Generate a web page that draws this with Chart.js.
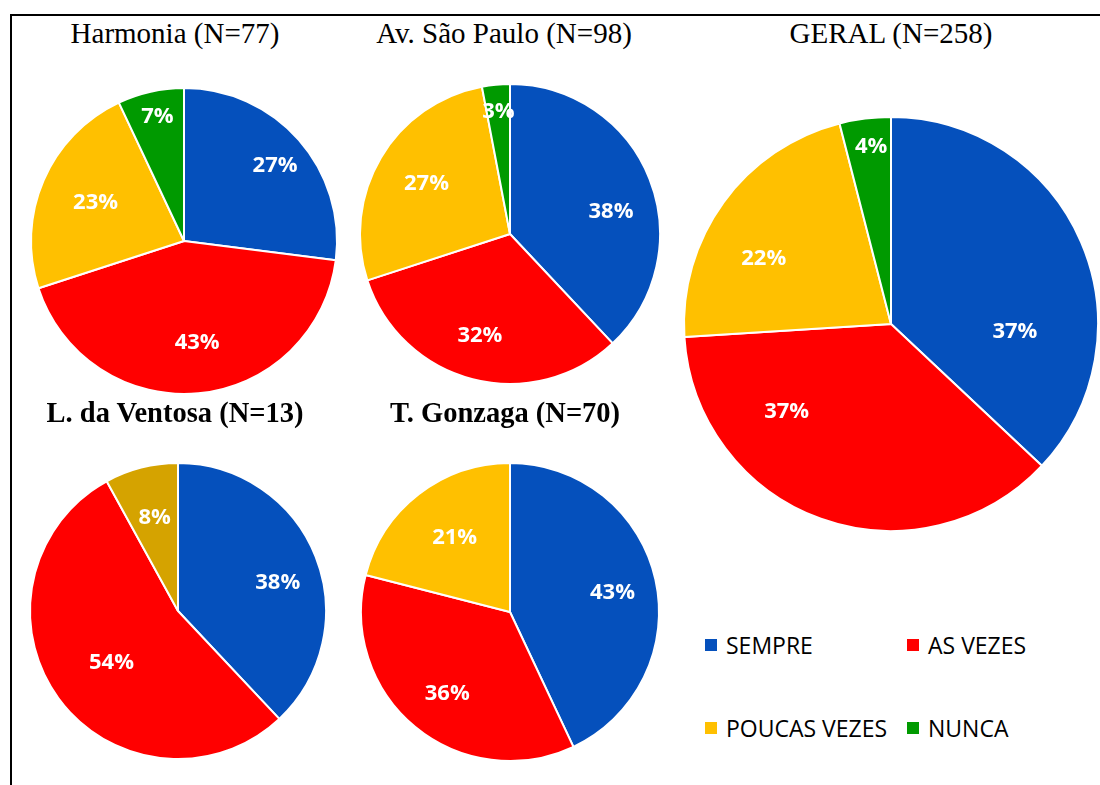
<!DOCTYPE html>
<html>
<head>
<meta charset="utf-8">
<script src="https://cdn.jsdelivr.net/npm/chart.js@4/dist/chart.umd.min.js"></script>
<style>
  html, body { margin: 0; padding: 0; background: #fff; }
  body { width: 1100px; height: 785px; position: relative; overflow: hidden; }
  .frame { position: absolute; left: 10px; top: 14px; width: 1200px; height: 900px;
           border-left: 2px solid #000; border-top: 2px solid #000; }
  canvas { position: absolute; }
  .title { position: absolute; transform: translate(-50%, -50%); white-space: nowrap;
           font-family: "Liberation Serif", "Times New Roman", serif; font-size: 29px; color: #000; }
  .title.bold { font-weight: bold; font-size: 28.5px; }
  .legend-item { position: absolute; display: flex; align-items: center;
                 font-family: "Open Sans", "Liberation Sans", sans-serif; font-size: 23px; color: #000; }
  .legend-item .sw { width: 12px; height: 12px; margin-right: 9px; }
</style>
</head>
<body>
<div class="frame"></div>
<script>
// Answer categories
const categories = ["SEMPRE", "AS VEZES", "POUCAS VEZES", "NUNCA"];

// Percentages per location (SEMPRE, AS VEZES, POUCAS VEZES, NUNCA)
const harmonia   = [27, 43, 23, 7];
const saoPaulo   = [38, 32, 27, 3];
const geral      = [37, 37, 22, 4];
const ventosa    = [38, 54, 8];
const gonzaga    = [43, 36, 21];

const titles = {
  harmonia: "Harmonia (N=77)",
  saoPaulo: "Av. São Paulo (N=98)",
  geral: "GERAL (N=258)",
  ventosa: "L. da Ventosa (N=13)",
  gonzaga: "T. Gonzaga (N=70)"
};

// Palette
const BLUE = "#0550BC", RED = "#FF0000", YELLOW = "#FFC000", GREEN = "#009A00", GOLD = "#D5A300";
const baseColors = [BLUE, RED, YELLOW, GREEN];

// Layout of each pie: centre, radius, label placement (radius fraction, angle shift in degrees)
const pies = [
  { key: "harmonia", values: harmonia, colors: baseColors, cx: 184, cy: 241, r: 153,
    title: { x: 175, y: 33, bold: false },
    labels: [[0.77, 2], [0.67, -2], [0.63, 0], [0.83, 0.5]] },
  { key: "saoPaulo", values: saoPaulo, colors: baseColors, cx: 510, cy: 234, r: 150,
    title: { x: 504, y: 33, bold: false },
    labels: [[0.69, 9], [0.71, 2], [0.65, 0.5], [0.82, 0]] },
  { key: "geral", values: geral, colors: baseColors, cx: 891, cy: 324, r: 207,
    title: { x: 891, y: 33, bold: false },
    labels: [[0.60, 27], [0.66, 30], [0.69, -9], [0.86, 0.8]] },
  { key: "ventosa", values: ventosa, colors: [BLUE, RED, GOLD], cx: 178, cy: 611, r: 148,
    title: { x: 175, y: 413, bold: true },
    labels: [[0.70, 6], [0.57, -2], [0.65, 0.4]] },
  { key: "gonzaga", values: gonzaga, colors: [BLUE, RED, YELLOW], cx: 510, cy: 612, r: 149,
    title: { x: 505, y: 413, bold: true },
    labels: [[0.70, 2], [0.69, -2], [0.62, 1]] }
];

// Percentage labels drawn inside each slice
const sliceLabels = {
  id: "sliceLabels",
  afterDatasetsDraw(chart, args, opts) {
    const ctx = chart.ctx;
    const meta = chart.getDatasetMeta(0);
    const vals = chart.data.datasets[0].data;
    ctx.save();
    ctx.fillStyle = "#FFFFFF";
    ctx.font = "bold 22px 'Open Sans', 'Liberation Sans', sans-serif";
    ctx.textAlign = "center";
    ctx.textBaseline = "middle";
    meta.data.forEach((arc, i) => {
      const p = arc.getProps(["x", "y", "startAngle", "endAngle", "outerRadius"], true);
      const place = opts.place[i] || [0.7, 0];
      const mid = (p.startAngle + p.endAngle) / 2 + place[1] * Math.PI / 180;
      const rr = p.outerRadius * place[0];
      ctx.fillText(vals[i] + "%", p.x + Math.cos(mid) * rr, p.y + Math.sin(mid) * rr);
    });
    ctx.restore();
  }
};

pies.forEach(pie => {
  const size = pie.r * 2 + 8;
  const cv = document.createElement("canvas");
  cv.width = size; cv.height = size;
  cv.style.left = (pie.cx - size / 2) + "px";
  cv.style.top = (pie.cy - size / 2) + "px";
  cv.style.width = size + "px"; cv.style.height = size + "px";
  document.body.appendChild(cv);

  new Chart(cv, {
    type: "pie",
    data: {
      labels: categories.slice(0, pie.values.length),
      datasets: [{
        data: pie.values,
        backgroundColor: pie.colors,
        borderColor: "#FFFFFF",
        borderWidth: 2
      }]
    },
    options: {
      responsive: false,
      animation: false,
      radius: pie.r,
      layout: { padding: 0 },
      plugins: {
        legend: { display: false },
        tooltip: { enabled: false },
        sliceLabels: { place: pie.labels }
      }
    },
    plugins: [sliceLabels]
  });

  const t = document.createElement("div");
  t.className = "title" + (pie.title.bold ? " bold" : "");
  t.style.left = pie.title.x + "px";
  t.style.top = pie.title.y + "px";
  t.textContent = titles[pie.key];
  document.body.appendChild(t);
});

// Shared legend, two columns by two rows
const legendSpots = [[705, 645], [907, 645], [705, 728], [907, 728]];
categories.forEach((name, i) => {
  const item = document.createElement("div");
  item.className = "legend-item";
  item.style.left = legendSpots[i][0] + "px";
  item.style.top = (legendSpots[i][1] - 16) + "px";
  item.innerHTML = '<span class="sw" style="background:' + baseColors[i] + '"></span><span>' + name + '</span>';
  document.body.appendChild(item);
});
</script>
</body>
</html>
